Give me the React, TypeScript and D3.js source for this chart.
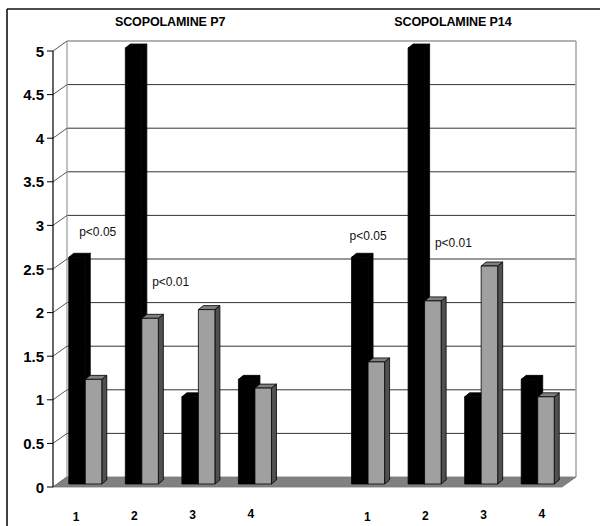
import React from "react";
import * as d3 from "d3";

const categories = ["1", "2", "3", "4"];
const groupTitles = ["SCOPOLAMINE P7", "SCOPOLAMINE P14"];
const p7Black = [2.6, 5.0, 1.0, 1.2];
const p7Gray = [1.2, 1.9, 2.0, 1.1];
const p14Black = [2.6, 5.0, 1.0, 1.2];
const p14Gray = [1.4, 2.1, 2.5, 1.0];
const yTicks = [0, 0.5, 1, 1.5, 2, 2.5, 3, 3.5, 4, 4.5, 5];
const yTickLabels = ["0", "0.5", "1", "1.5", "2", "2.5", "3", "3.5", "4", "4.5", "5"];
const annotationTexts = ["p<0.05", "p<0.01", "p<0.05", "p<0.01"];
const annotationSlots = [0.22, 1.51, 5.0, 6.51];
const annotationValues = [2.89, 2.32, 2.84, 2.76];

// slots: group P7 in 0..3, empty 4, group P14 in 5..8
const groupSeries = [
  { black: p7Black, gray: p7Gray, firstSlot: 0 },
  { black: p14Black, gray: p14Gray, firstSlot: 5 },
];
const slotIds = d3.range(9);

const W = 600;
const H = 526;
const FONT = "'Liberation Sans', Arial, sans-serif";

// 3D geometry
const DX = 14, DY = -10; // floor depth
const BX = 4, BY = -3; // bar front plane offset
const TX = 5, TY = -4; // bar depth

const yFront = d3.scaleLinear().domain([0, 5]).range([487, 51]);
const yBar = (v: number) => yFront(v) + BY;
const xFront = d3.scaleBand<number>().domain(slotIds).range([53, 562]).paddingInner(0).paddingOuter(0);
const xBar = (slot: number) => (xFront(slot) as number) + BX;
const xSlotCenter = d3.scaleLinear().domain([-0.5, 8.5]).range([53 + BX, 562 + BX]);
const xLabels = d3.scaleBand<number>().domain(slotIds).range([47, 571]);
const barW = xFront.bandwidth() * 0.292;

function Bar({ x, v, front, top, side }: { x: number; v: number; front: string; top: string; side: string }) {
  const y0 = yBar(0);
  const y1 = yBar(v);
  const w = barW;
  const topPts = [[x, y1], [x + w, y1], [x + w + TX, y1 + TY], [x + TX, y1 + TY]];
  const sidePts = [[x + w, y1], [x + w + TX, y1 + TY], [x + w + TX, y0 + TY], [x + w, y0]];
  const pts = (p: number[][]) => p.map((q) => q.join(",")).join(" ");
  return (
    <g stroke="#000" strokeWidth={0.8} strokeLinejoin="round">
      <polygon points={pts(sidePts)} fill={side} />
      <polygon points={pts(topPts)} fill={top} />
      <rect x={x} y={y1} width={w} height={y0 - y1} fill={front} />
    </g>
  );
}

export default function App() {
  const backLeft = 53 + DX;
  const backRight = 562 + DX;
  return (
    <svg width={W} height={H} style={{ position: "absolute", left: 0, top: 0, background: "#fff" }} fontFamily={FONT}>
      {/* outer border */}
      <line x1={7} y1={9} x2={W} y2={9} stroke="#111" strokeWidth={1.6} />
      <line x1={7} y1={9} x2={7} y2={H} stroke="#111" strokeWidth={1.6} />

      {/* back wall gridlines */}
      {yTicks.map((t) =>
        t === 0 ? null : (
          <line key={"g" + t} x1={backLeft} x2={backRight} y1={yFront(t) + DY} y2={yFront(t) + DY}
            stroke={t === 5 ? "#999" : "#333"} strokeWidth={t === 5 ? 1.4 : 1} />
        )
      )}
      {/* back wall left and right edges */}
      <line x1={backLeft} x2={backLeft} y1={yFront(5) + DY} y2={yFront(0) + DY} stroke="#999" strokeWidth={1.2} />
      <line x1={backRight} x2={backRight} y1={yFront(5) + DY} y2={yFront(0) + DY} stroke="#aaa" strokeWidth={1.6} />
      {/* side wall diagonals */}
      {yTicks.map((t) => (
        <line key={"d" + t} x1={53} y1={yFront(t)} x2={backLeft} y2={yFront(t) + DY} stroke="#555" strokeWidth={1} />
      ))}

      {/* floor */}
      <polygon
        points={[[53, yFront(0)], [562, yFront(0)], [backRight, yFront(0) + DY], [backLeft, yFront(0) + DY]].map((p) => p.join(",")).join(" ")}
        fill="#808080" stroke="#777" strokeWidth={0.8}
      />

      {/* bars */}
      {groupSeries.map((g, gi) =>
        categories.map((c, ci) => {
          const slot = g.firstSlot + ci;
          const xs = xBar(slot) + (xFront.bandwidth() - 2 * barW) / 2;
          return (
            <g key={gi + "-" + ci}>
              <Bar x={xs} v={g.black[ci]} front="#000" top="#000" side="#000" />
              <Bar x={xs + barW} v={g.gray[ci]} front="#a0a0a0" top="#808080" side="#505050" />
            </g>
          );
        })
      )}

      {/* front y axis */}
      <line x1={53} x2={53} y1={yFront(5)} y2={yFront(0)} stroke="#000" strokeWidth={1.2} />
      {yTicks.map((t, i) => (
        <g key={"t" + t}>
          <line x1={47} x2={53} y1={yFront(t)} y2={yFront(t)} stroke="#000" strokeWidth={1} />
          <text x={44} y={yFront(t)} textAnchor="end" dominantBaseline="central" fontSize={15} fontWeight="bold">
            {yTickLabels[i]}
          </text>
        </g>
      ))}

      {/* group titles */}
      {groupSeries.map((g, gi) => (
        <text key={"title" + gi} x={xSlotCenter(g.firstSlot + 1.5)} y={22} textAnchor="middle" dominantBaseline="central"
          fontSize={12.5} fontWeight="bold" letterSpacing={-0.1}>
          {groupTitles[gi]}
        </text>
      ))}

      {/* category labels */}
      {groupSeries.map((g, gi) =>
        categories.map((c, ci) => {
          const slot = g.firstSlot + ci;
          return (
            <text key={"l" + gi + ci} x={(xLabels(slot) as number) + xLabels.bandwidth() / 2} y={517 - ci}
              textAnchor="middle" dominantBaseline="central" fontSize={12} fontWeight="bold">
              {c}
            </text>
          );
        })
      )}

      {/* annotations */}
      {annotationTexts.map((a, i) => (
        <text key={"a" + i} x={xSlotCenter(annotationSlots[i])} y={yBar(annotationValues[i])} textAnchor="middle"
          dominantBaseline="central" fontSize={12} fill="#111">
          {a}
        </text>
      ))}
    </svg>
  );
}
